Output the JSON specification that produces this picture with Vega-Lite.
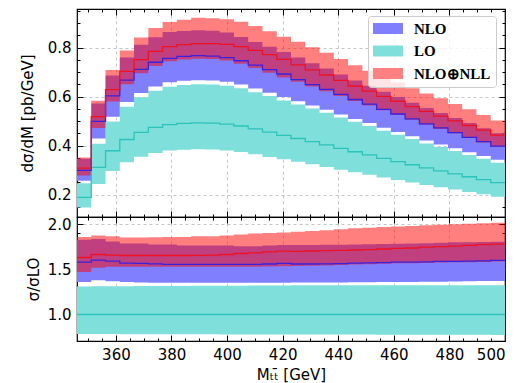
{
  "$schema": "https://vega.github.io/schema/vega-lite/v6.json",
  "padding": {"left": 19, "top": 7, "right": 5, "bottom": 5},
  "bounds": "flush",
  "spacing": 0,
  "datasets": {
    "bins": [
      {"x": 346.0, "lo": 0.189, "loH": 0.247, "loL": 0.148, "n": 0.299, "nH": 0.346, "nL": 0.257, "r": 0.308, "rH": 0.352, "rL": 0.278, "q": 1, "qH": 1.309, "qL": 0.783, "qn": 1.580, "qnH": 1.830, "qnL": 1.360, "qr": 1.632, "qrH": 1.860, "qrL": 1.470},
      {"x": 351.13, "lo": 0.311, "loH": 0.408, "loL": 0.244, "n": 0.499, "nH": 0.572, "nL": 0.429, "r": 0.518, "rH": 0.583, "rL": 0.472, "q": 1, "qH": 1.312, "qL": 0.783, "qn": 1.603, "qnH": 1.838, "qnL": 1.379, "qr": 1.665, "qrH": 1.875, "qrL": 1.518},
      {"x": 356.27, "lo": 0.379, "loH": 0.498, "loL": 0.297, "n": 0.603, "nH": 0.686, "nL": 0.518, "r": 0.628, "rH": 0.708, "rL": 0.580, "q": 1, "qH": 1.313, "qL": 0.783, "qn": 1.592, "qnH": 1.810, "qnL": 1.368, "qr": 1.658, "qrH": 1.868, "qrL": 1.530},
      {"x": 361.4, "lo": 0.425, "loH": 0.558, "loL": 0.332, "n": 0.667, "nH": 0.759, "nL": 0.578, "r": 0.703, "rH": 0.788, "rL": 0.650, "q": 1, "qH": 1.314, "qL": 0.782, "qn": 1.570, "qnH": 1.787, "qnL": 1.360, "qr": 1.654, "qrH": 1.853, "qrL": 1.530},
      {"x": 366.53, "lo": 0.454, "loH": 0.597, "loL": 0.355, "n": 0.711, "nH": 0.811, "nL": 0.615, "r": 0.751, "rH": 0.841, "rL": 0.695, "q": 1, "qH": 1.315, "qL": 0.782, "qn": 1.566, "qnH": 1.787, "qnL": 1.355, "qr": 1.654, "qrH": 1.853, "qrL": 1.530},
      {"x": 371.67, "lo": 0.474, "loH": 0.624, "loL": 0.370, "n": 0.740, "nH": 0.842, "nL": 0.641, "r": 0.784, "rH": 0.880, "rL": 0.725, "q": 1, "qH": 1.316, "qL": 0.781, "qn": 1.562, "qnH": 1.776, "qnL": 1.353, "qr": 1.654, "qrH": 1.856, "qrL": 1.530},
      {"x": 376.8, "lo": 0.486, "loH": 0.640, "loL": 0.380, "n": 0.756, "nH": 0.863, "nL": 0.658, "r": 0.804, "rH": 0.904, "rL": 0.744, "q": 1, "qH": 1.316, "qL": 0.781, "qn": 1.555, "qnH": 1.776, "qnL": 1.353, "qr": 1.654, "qrH": 1.860, "qrL": 1.530},
      {"x": 381.93, "lo": 0.491, "loH": 0.647, "loL": 0.383, "n": 0.764, "nH": 0.867, "nL": 0.664, "r": 0.812, "rH": 0.913, "rL": 0.751, "q": 1, "qH": 1.317, "qL": 0.780, "qn": 1.555, "qnH": 1.765, "qnL": 1.353, "qr": 1.654, "qrH": 1.860, "qrL": 1.530},
      {"x": 387.07, "lo": 0.493, "loH": 0.650, "loL": 0.385, "n": 0.767, "nH": 0.870, "nL": 0.667, "r": 0.816, "rH": 0.921, "rL": 0.754, "q": 1, "qH": 1.318, "qL": 0.780, "qn": 1.555, "qnH": 1.765, "qnL": 1.353, "qr": 1.656, "qrH": 1.868, "qrL": 1.530},
      {"x": 392.2, "lo": 0.492, "loH": 0.649, "loL": 0.384, "n": 0.765, "nH": 0.868, "nL": 0.666, "r": 0.816, "rH": 0.919, "rL": 0.753, "q": 1, "qH": 1.319, "qL": 0.780, "qn": 1.555, "qnH": 1.765, "qnL": 1.353, "qr": 1.658, "qrH": 1.868, "qrL": 1.530},
      {"x": 397.33, "lo": 0.488, "loH": 0.644, "loL": 0.380, "n": 0.759, "nH": 0.861, "nL": 0.660, "r": 0.813, "rH": 0.915, "rL": 0.747, "q": 1, "qH": 1.320, "qL": 0.779, "qn": 1.555, "qnH": 1.765, "qnL": 1.353, "qr": 1.665, "qrH": 1.875, "qrL": 1.530},
      {"x": 402.47, "lo": 0.480, "loH": 0.634, "loL": 0.374, "n": 0.746, "nH": 0.843, "nL": 0.649, "r": 0.804, "rH": 0.905, "rL": 0.734, "q": 1, "qH": 1.320, "qL": 0.779, "qn": 1.555, "qnH": 1.757, "qnL": 1.353, "qr": 1.676, "qrH": 1.886, "qrL": 1.530},
      {"x": 407.6, "lo": 0.468, "loH": 0.618, "loL": 0.365, "n": 0.728, "nH": 0.822, "nL": 0.633, "r": 0.788, "rH": 0.888, "rL": 0.716, "q": 1, "qH": 1.321, "qL": 0.779, "qn": 1.555, "qnH": 1.757, "qnL": 1.353, "qr": 1.684, "qrH": 1.897, "qrL": 1.530},
      {"x": 412.73, "lo": 0.455, "loH": 0.602, "loL": 0.354, "n": 0.710, "nH": 0.803, "nL": 0.616, "r": 0.771, "rH": 0.866, "rL": 0.697, "q": 1, "qH": 1.322, "qL": 0.778, "qn": 1.560, "qnH": 1.765, "qnL": 1.353, "qr": 1.695, "qrH": 1.904, "qrL": 1.532},
      {"x": 417.87, "lo": 0.442, "loH": 0.584, "loL": 0.344, "n": 0.692, "nH": 0.782, "nL": 0.598, "r": 0.752, "rH": 0.844, "rL": 0.678, "q": 1, "qH": 1.322, "qL": 0.778, "qn": 1.566, "qnH": 1.770, "qnL": 1.353, "qr": 1.702, "qrH": 1.910, "qrL": 1.535},
      {"x": 423.0, "lo": 0.429, "loH": 0.568, "loL": 0.334, "n": 0.669, "nH": 0.759, "nL": 0.581, "r": 0.729, "rH": 0.823, "rL": 0.660, "q": 1, "qH": 1.323, "qL": 0.778, "qn": 1.560, "qnH": 1.770, "qnL": 1.355, "qr": 1.700, "qrH": 1.918, "qrL": 1.538},
      {"x": 428.13, "lo": 0.416, "loH": 0.551, "loL": 0.324, "n": 0.649, "nH": 0.736, "nL": 0.564, "r": 0.709, "rH": 0.801, "rL": 0.641, "q": 1, "qH": 1.324, "qL": 0.778, "qn": 1.560, "qnH": 1.770, "qnL": 1.355, "qr": 1.704, "qrH": 1.925, "qrL": 1.540},
      {"x": 433.27, "lo": 0.403, "loH": 0.534, "loL": 0.313, "n": 0.629, "nH": 0.714, "nL": 0.546, "r": 0.688, "rH": 0.779, "rL": 0.622, "q": 1, "qH": 1.324, "qL": 0.777, "qn": 1.562, "qnH": 1.772, "qnL": 1.356, "qr": 1.708, "qrH": 1.934, "qrL": 1.543},
      {"x": 438.4, "lo": 0.389, "loH": 0.515, "loL": 0.302, "n": 0.609, "nH": 0.690, "nL": 0.527, "r": 0.666, "rH": 0.753, "rL": 0.602, "q": 1, "qH": 1.325, "qL": 0.777, "qn": 1.565, "qnH": 1.774, "qnL": 1.356, "qr": 1.712, "qrH": 1.945, "qrL": 1.548},
      {"x": 443.53, "lo": 0.375, "loH": 0.497, "loL": 0.291, "n": 0.588, "nH": 0.666, "nL": 0.509, "r": 0.643, "rH": 0.728, "rL": 0.582, "q": 1, "qH": 1.325, "qL": 0.777, "qn": 1.569, "qnH": 1.776, "qnL": 1.357, "qr": 1.715, "qrH": 1.956, "qrL": 1.553},
      {"x": 448.67, "lo": 0.362, "loH": 0.480, "loL": 0.281, "n": 0.569, "nH": 0.644, "nL": 0.492, "r": 0.622, "rH": 0.705, "rL": 0.564, "q": 1, "qH": 1.325, "qL": 0.777, "qn": 1.573, "qnH": 1.780, "qnL": 1.358, "qr": 1.719, "qrH": 1.963, "qrL": 1.558},
      {"x": 453.8, "lo": 0.348, "loH": 0.461, "loL": 0.270, "n": 0.548, "nH": 0.620, "nL": 0.473, "r": 0.601, "rH": 0.680, "rL": 0.544, "q": 1, "qH": 1.325, "qL": 0.776, "qn": 1.576, "qnH": 1.782, "qnL": 1.359, "qr": 1.726, "qrH": 1.970, "qrL": 1.563},
      {"x": 458.93, "lo": 0.335, "loH": 0.444, "loL": 0.260, "n": 0.529, "nH": 0.598, "nL": 0.456, "r": 0.581, "rH": 0.657, "rL": 0.525, "q": 1, "qH": 1.325, "qL": 0.776, "qn": 1.580, "qnH": 1.784, "qnL": 1.360, "qr": 1.734, "qrH": 1.975, "qrL": 1.567},
      {"x": 464.07, "lo": 0.322, "loH": 0.427, "loL": 0.250, "n": 0.509, "nH": 0.575, "nL": 0.438, "r": 0.559, "rH": 0.634, "rL": 0.505, "q": 1, "qH": 1.325, "qL": 0.776, "qn": 1.581, "qnH": 1.786, "qnL": 1.361, "qr": 1.737, "qrH": 1.980, "qrL": 1.569},
      {"x": 469.2, "lo": 0.309, "loH": 0.409, "loL": 0.239, "n": 0.489, "nH": 0.553, "nL": 0.421, "r": 0.540, "rH": 0.612, "rL": 0.486, "q": 1, "qH": 1.325, "qL": 0.775, "qn": 1.584, "qnH": 1.790, "qnL": 1.362, "qr": 1.748, "qrH": 1.990, "qrL": 1.572},
      {"x": 474.33, "lo": 0.297, "loH": 0.394, "loL": 0.230, "n": 0.472, "nH": 0.533, "nL": 0.405, "r": 0.520, "rH": 0.593, "rL": 0.468, "q": 1, "qH": 1.325, "qL": 0.775, "qn": 1.588, "qnH": 1.796, "qnL": 1.364, "qr": 1.752, "qrH": 1.996, "qrL": 1.576},
      {"x": 479.47, "lo": 0.285, "loH": 0.378, "loL": 0.221, "n": 0.453, "nH": 0.513, "nL": 0.389, "r": 0.501, "rH": 0.570, "rL": 0.450, "q": 1, "qH": 1.325, "qL": 0.775, "qn": 1.590, "qnH": 1.800, "qnL": 1.366, "qr": 1.759, "qrH": 2.000, "qrL": 1.578},
      {"x": 484.6, "lo": 0.273, "loH": 0.362, "loL": 0.211, "n": 0.434, "nH": 0.492, "nL": 0.373, "r": 0.482, "rH": 0.548, "rL": 0.431, "q": 1, "qH": 1.325, "qL": 0.774, "qn": 1.591, "qnH": 1.802, "qnL": 1.368, "qr": 1.766, "qrH": 2.007, "qrL": 1.580},
      {"x": 489.73, "lo": 0.261, "loH": 0.346, "loL": 0.202, "n": 0.416, "nH": 0.471, "nL": 0.358, "r": 0.463, "rH": 0.525, "rL": 0.413, "q": 1, "qH": 1.325, "qL": 0.774, "qn": 1.595, "qnH": 1.805, "qnL": 1.370, "qr": 1.774, "qrH": 2.012, "qrL": 1.583},
      {"x": 494.87, "lo": 0.249, "loH": 0.330, "loL": 0.192, "n": 0.398, "nH": 0.450, "nL": 0.342, "r": 0.443, "rH": 0.502, "rL": 0.395, "q": 1, "qH": 1.325, "qL": 0.773, "qn": 1.599, "qnH": 1.807, "qnL": 1.372, "qr": 1.781, "qrH": 2.018, "qrL": 1.587},
      {"x": 500.0, "lo": 0.249, "loH": 0.330, "loL": 0.192, "n": 0.398, "nH": 0.450, "nL": 0.342, "r": 0.443, "rH": 0.502, "rL": 0.395, "q": 1, "qH": 1.325, "qL": 0.773, "qn": 1.599, "qnH": 1.807, "qnL": 1.372, "qr": 1.781, "qrH": 2.018, "qrL": 1.587}
    ]
  },
  "vconcat": [
    {
      "width": 428,
      "height": 208,
      "data": {"name": "bins"},
      "resolve": {"axis": {"x": "independent", "y": "independent"}},
      "layer": [
        {
          "mark": {"type": "area", "interpolate": "step-after", "clip": true},
          "encoding": {
            "x": {"field": "x", "type": "quantitative", "scale": {"domain": [346, 500], "nice": false, "zero": false}, "axis": null},
            "y": {"field": "loH", "type": "quantitative", "scale": {"domain": [0.109, 0.957], "nice": false, "zero": false},
                  "axis": {"orient": "left", "values": [0.2, 0.4, 0.6, 0.8], "format": ".1f", "ticks": false, "grid": false, "labelPadding": 6, "title": "dσ/dM [pb/GeV]", "titlePadding": 12}},
            "y2": {"field": "loL"},
            "color": {"datum": "LO", "type": "nominal",
                      "scale": {"domain": ["NLO", "LO", "NLO⊕NLL"], "range": ["#8080ff", "#7fdfdb", "#ff8080"]},
                      "legend": {"orient": "none", "legendX": 291, "legendY": 7, "title": null,
                                 "symbolType": "M-1,-0.73H3V0.73H-1Z", "symbolSize": 225, "symbolStrokeWidth": 0, "symbolOpacity": 1,
                                 "labelFont": "Liberation Serif", "labelFontWeight": "bold", "labelFontSize": 15, "labelColor": "black",
                                 "labelOffset": 26, "rowPadding": 6.5, "padding": 5,
                                 "fillColor": "rgba(255,255,255,0.8)", "strokeColor": "#cccccc", "cornerRadius": 3}}
          }
        },
        {
          "mark": {"type": "area", "interpolate": "step-after", "color": "#8080ff", "clip": true},
          "encoding": {
            "x": {"field": "x", "type": "quantitative",
                  "axis": {"orient": "bottom", "values": [360, 380, 400, 420, 440, 460, 480], "labels": false, "tickSize": -6, "grid": true, "title": null}},
            "y": {"field": "nH", "type": "quantitative",
                  "axis": {"orient": "left", "values": [0.2, 0.4, 0.6, 0.8], "labels": false, "tickSize": -6, "grid": true, "title": null}},
            "y2": {"field": "nL"}
          }
        },
        {
          "mark": {"type": "area", "interpolate": "step-after", "color": "#ff0000", "opacity": 0.5, "clip": true},
          "encoding": {
            "x": {"field": "x", "type": "quantitative",
                  "axis": {"orient": "bottom", "values": [350, 355, 365, 370, 375, 385, 390, 395, 405, 410, 415, 425, 430, 435, 445, 450, 455, 465, 470, 475, 485, 490, 495], "labels": false, "tickSize": -3, "grid": false, "title": null}},
            "y": {"field": "rH", "type": "quantitative",
                  "axis": {"orient": "left", "values": [0.15, 0.25, 0.3, 0.35, 0.45, 0.5, 0.55, 0.65, 0.7, 0.75, 0.85, 0.9, 0.95], "labels": false, "tickSize": -3, "grid": false, "title": null}},
            "y2": {"field": "rL"}
          }
        },
        {
          "mark": {"type": "line", "interpolate": "step-after", "color": "#2cc3bb", "strokeWidth": 1.3, "clip": true},
          "encoding": {
            "x": {"field": "x", "type": "quantitative",
                  "axis": {"orient": "top", "values": [360, 380, 400, 420, 440, 460, 480], "labels": false, "tickSize": -6, "grid": false, "title": null}},
            "y": {"field": "lo", "type": "quantitative",
                  "axis": {"orient": "right", "values": [0.2, 0.4, 0.6, 0.8], "labels": false, "tickSize": -6, "grid": false, "title": null}}
          }
        },
        {
          "mark": {"type": "line", "interpolate": "step-after", "color": "#3a22dd", "strokeWidth": 1.3, "clip": true},
          "encoding": {
            "x": {"field": "x", "type": "quantitative",
                  "axis": {"orient": "top", "values": [350, 355, 365, 370, 375, 385, 390, 395, 405, 410, 415, 425, 430, 435, 445, 450, 455, 465, 470, 475, 485, 490, 495], "labels": false, "tickSize": -3, "grid": false, "title": null}},
            "y": {"field": "n", "type": "quantitative",
                  "axis": {"orient": "right", "values": [0.15, 0.25, 0.3, 0.35, 0.45, 0.5, 0.55, 0.65, 0.7, 0.75, 0.85, 0.9, 0.95], "labels": false, "tickSize": -3, "grid": false, "title": null}}
          }
        },
        {
          "mark": {"type": "line", "interpolate": "step-after", "color": "#ee1122", "strokeWidth": 1.3, "clip": true},
          "encoding": {
            "x": {"field": "x", "type": "quantitative", "axis": null},
            "y": {"field": "r", "type": "quantitative", "axis": null}
          }
        }
      ]
    },
    {
      "width": 428,
      "height": 124,
      "data": {"name": "bins"},
      "resolve": {"axis": {"x": "independent", "y": "independent"}},
      "layer": [
        {
          "mark": {"type": "area", "interpolate": "step-after", "color": "#7fdfdb", "clip": true},
          "encoding": {
            "x": {"field": "x", "type": "quantitative", "scale": {"domain": [346, 500], "nice": false, "zero": false},
                  "axis": {"orient": "bottom", "values": [360, 380, 400, 420, 440, 460, 480, 500], "format": "d", "ticks": false, "grid": false, "labelPadding": 6, "title": "Mₜₜ̄ [GeV]", "titlePadding": 5}},
            "y": {"field": "qH", "type": "quantitative", "scale": {"domain": [0.706, 2.081], "nice": false, "zero": false},
                  "axis": {"orient": "left", "values": [1.0, 1.5, 2.0], "format": ".1f", "ticks": false, "grid": false, "labelPadding": 6, "title": "σ/σLO", "titlePadding": 6}},
            "y2": {"field": "qL"}
          }
        },
        {
          "mark": {"type": "area", "interpolate": "step-after", "color": "#8080ff", "clip": true},
          "encoding": {
            "x": {"field": "x", "type": "quantitative",
                  "axis": {"orient": "bottom", "values": [360, 380, 400, 420, 440, 460, 480], "labels": false, "tickSize": -6, "grid": true, "title": null}},
            "y": {"field": "qnH", "type": "quantitative",
                  "axis": {"orient": "left", "values": [1.0, 1.5, 2.0], "labels": false, "tickSize": -6, "grid": true, "title": null}},
            "y2": {"field": "qnL"}
          }
        },
        {
          "mark": {"type": "area", "interpolate": "step-after", "color": "#ff0000", "opacity": 0.5, "clip": true},
          "encoding": {
            "x": {"field": "x", "type": "quantitative",
                  "axis": {"orient": "bottom", "values": [350, 355, 365, 370, 375, 385, 390, 395, 405, 410, 415, 425, 430, 435, 445, 450, 455, 465, 470, 475, 485, 490, 495], "labels": false, "tickSize": -3, "grid": false, "title": null}},
            "y": {"field": "qrH", "type": "quantitative",
                  "axis": {"orient": "left", "values": [0.8, 0.9, 1.1, 1.2, 1.3, 1.4, 1.6, 1.7, 1.8, 1.9], "labels": false, "tickSize": -3, "grid": false, "title": null}},
            "y2": {"field": "qrL"}
          }
        },
        {
          "mark": {"type": "line", "interpolate": "step-after", "color": "#2cc3bb", "strokeWidth": 1.3, "clip": true},
          "encoding": {
            "x": {"field": "x", "type": "quantitative",
                  "axis": {"orient": "top", "values": [360, 380, 400, 420, 440, 460, 480], "labels": false, "tickSize": -6, "grid": false, "title": null}},
            "y": {"field": "q", "type": "quantitative",
                  "axis": {"orient": "right", "values": [1.0, 1.5, 2.0], "labels": false, "tickSize": -6, "grid": false, "title": null}}
          }
        },
        {
          "mark": {"type": "line", "interpolate": "step-after", "color": "#3a22dd", "strokeWidth": 1.3, "clip": true},
          "encoding": {
            "x": {"field": "x", "type": "quantitative",
                  "axis": {"orient": "top", "values": [350, 355, 365, 370, 375, 385, 390, 395, 405, 410, 415, 425, 430, 435, 445, 450, 455, 465, 470, 475, 485, 490, 495], "labels": false, "tickSize": -3, "grid": false, "title": null}},
            "y": {"field": "qn", "type": "quantitative",
                  "axis": {"orient": "right", "values": [0.8, 0.9, 1.1, 1.2, 1.3, 1.4, 1.6, 1.7, 1.8, 1.9], "labels": false, "tickSize": -3, "grid": false, "title": null}}
          }
        },
        {
          "mark": {"type": "line", "interpolate": "step-after", "color": "#ee1122", "strokeWidth": 1.3, "clip": true},
          "encoding": {
            "x": {"field": "x", "type": "quantitative", "axis": null},
            "y": {"field": "qr", "type": "quantitative", "axis": null}
          }
        }
      ]
    }
  ],
  "config": {
    "view": {"stroke": "black", "strokeWidth": 1.2},
    "axis": {
      "domain": false,
      "labelFont": "DejaVu Sans", "labelFontSize": 15, "labelColor": "black",
      "titleFont": "DejaVu Sans", "titleFontSize": 15, "titleColor": "black", "titleFontWeight": "normal",
      "tickColor": "black", "tickWidth": 1,
      "gridColor": "#b8b8b8", "gridDash": [3, 3], "gridWidth": 0.8
    }
  }
}
